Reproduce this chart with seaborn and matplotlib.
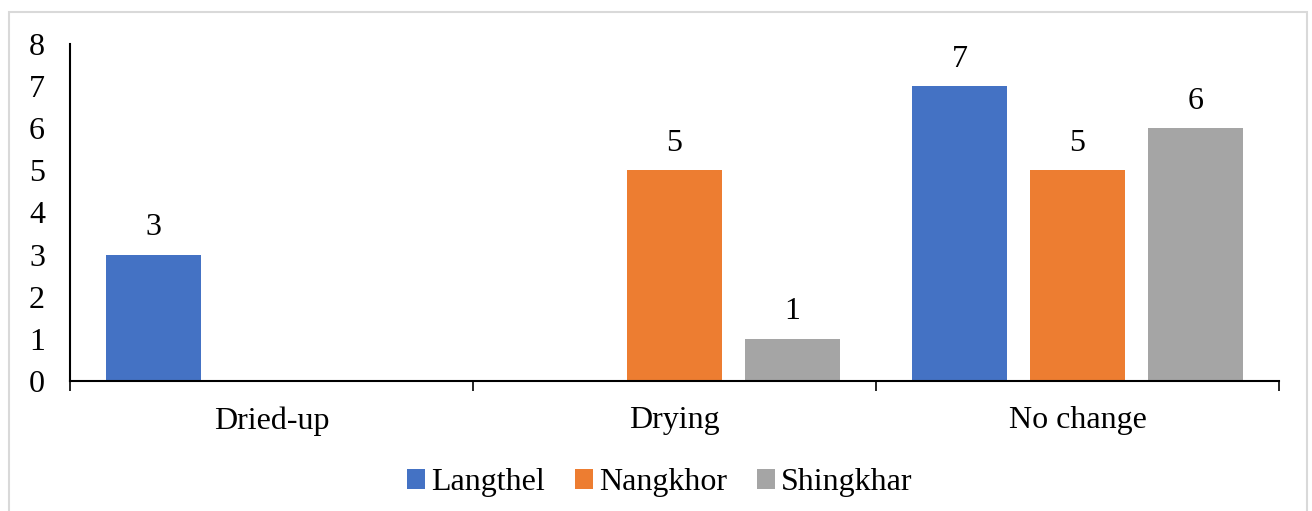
import matplotlib
matplotlib.use("Agg")
import matplotlib.pyplot as plt
from matplotlib.patches import Rectangle
from matplotlib.ticker import FixedLocator, NullFormatter
import seaborn as sns
import pandas as pd

categories = ["Dried-up", "Drying", "No change"]
locations = ["Langthel", "Nangkhor", "Shingkhar"]
langthel = [3, 0, 7]
nangkhor = [0, 5, 5]
shingkhar = [0, 1, 6]
colors = ["#4472C4", "#ED7D31", "#A5A5A5"]

rows = []
for loc, vals in zip(locations, [langthel, nangkhor, shingkhar]):
    for cat, v in zip(categories, vals):
        rows.append({"status": cat, "location": loc, "count": v})
df = pd.DataFrame(rows)

sns.set_theme(style="white")
plt.rcParams["font.family"] = ["Liberation Serif", "DejaVu Serif"]
plt.rcParams["text.color"] = "#000000"

FS = 23

fig = plt.figure(figsize=(13.12, 5.11), dpi=100)
ax = fig.add_axes([0.0534, 0.2544, 0.9214, 0.6595])

sns.barplot(data=df, x="status", y="count", hue="location", order=categories,
            hue_order=locations, palette=colors, width=0.878, gap=0.2,
            saturation=1, errorbar=None, ax=ax, linewidth=0)

# value labels for non-empty bars
for container in ax.containers:
    labels = [f"{v:g}" if v > 0 else "" for v in container.datavalues]
    ax.bar_label(container, labels=labels, padding=9, fontsize=FS, color="#000000")

ax.set_xlim(-0.5, 2.5)
ax.set_ylim(0, 8)
ax.set_yticks(range(0, 9))
ax.set_xlabel("")
ax.set_ylabel("")
ax.tick_params(axis="y", length=0, pad=18, labelsize=FS, labelcolor="#000000")
ax.tick_params(axis="x", which="major", length=0, pad=18, labelsize=FS, labelcolor="#000000")
ax.xaxis.set_minor_locator(FixedLocator([-0.5, 0.5, 1.5, 2.5]))
ax.xaxis.set_minor_formatter(NullFormatter())
ax.tick_params(axis="x", which="minor", bottom=True, length=7, width=1.2,
               color="#000000", direction="out")

for side in ["top", "right"]:
    ax.spines[side].set_visible(False)
for side in ["left", "bottom"]:
    ax.spines[side].set_color("#000000")
    ax.spines[side].set_linewidth(1.5)
ax.grid(False)

handles, labels = ax.get_legend_handles_labels()
leg = ax.legend(handles, labels, loc="center", bbox_to_anchor=(0.503, 0.055),
                bbox_transform=fig.transFigure, ncol=3, frameon=False, fontsize=FS,
                handlelength=0.55, handleheight=0.55, handletextpad=0.2,
                columnspacing=0.95)
for t in leg.get_texts():
    t.set_color("#000000")

# chart frame
fig.patches.append(Rectangle((9 / 1312, -0.05), 1298 / 1312, 1.05 - 12 / 511,
                             transform=fig.transFigure, fill=False,
                             edgecolor="#D9D9D9", linewidth=1.5))

fig.savefig("out.png", dpi=100)
